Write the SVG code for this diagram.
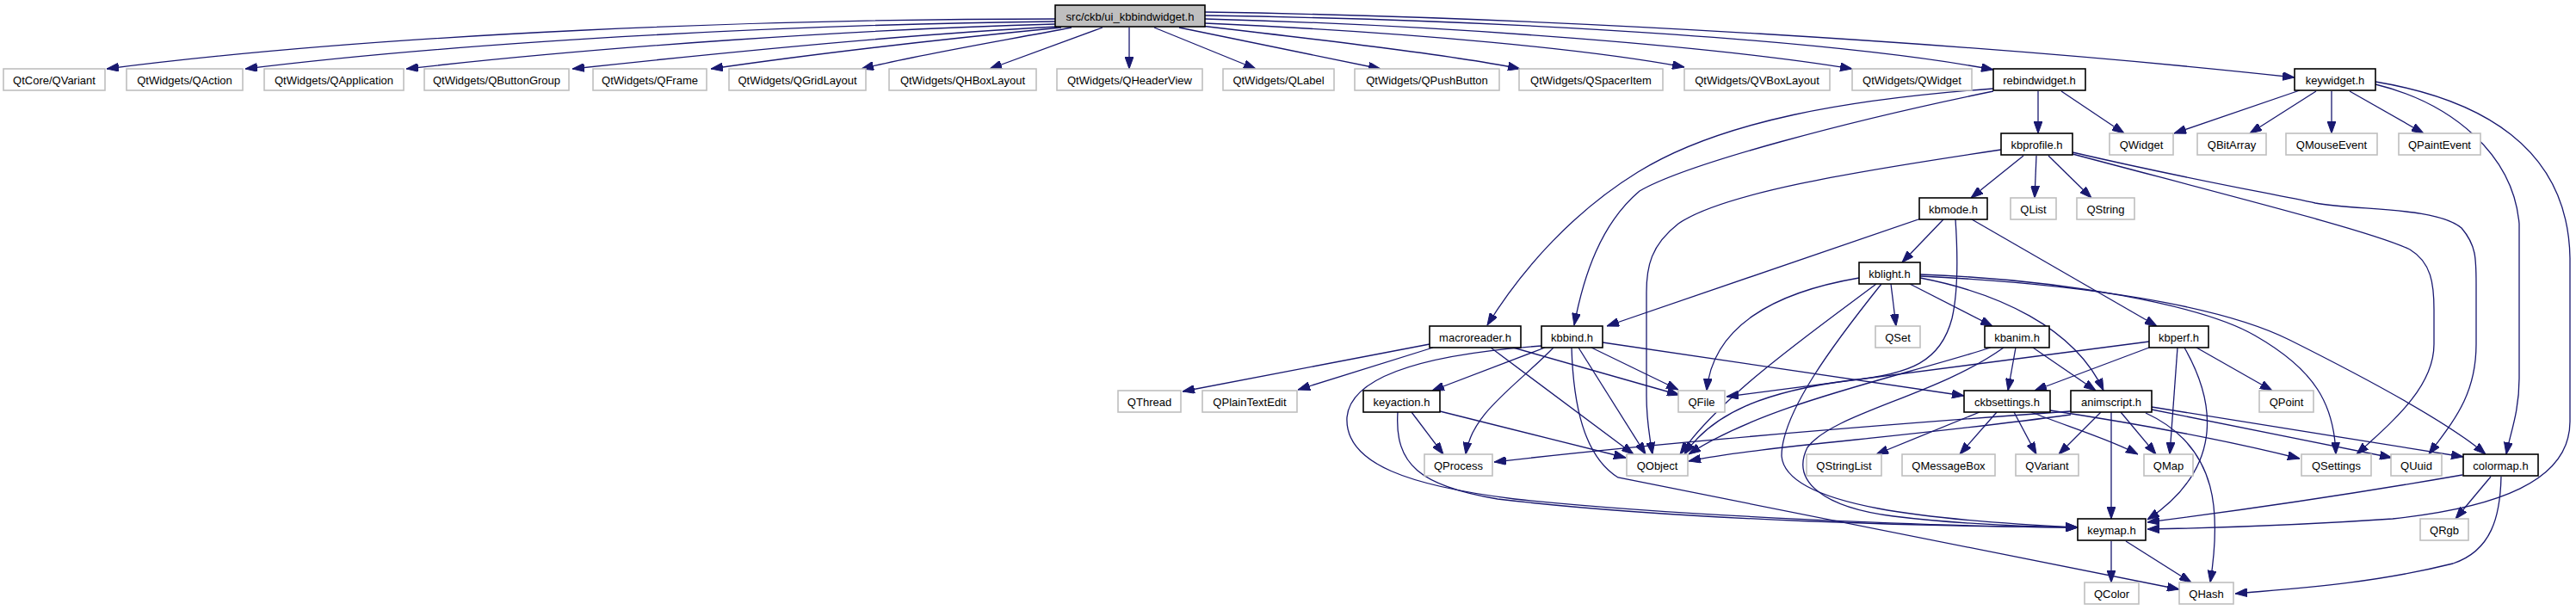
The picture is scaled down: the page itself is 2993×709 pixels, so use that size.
<svg xmlns="http://www.w3.org/2000/svg" width="2993" height="709" viewBox="0 0 2993 709">
<defs>
<marker id="a" viewBox="0 0 14 10" refX="14" refY="5" markerWidth="14" markerHeight="10" markerUnits="userSpaceOnUse" orient="auto">
<path d="M0,0 L14,5 L0,10 z" fill="#191970" stroke="#191970"/>
</marker>
</defs>
<style>
rect{fill:#fff;stroke-width:1.6}
.b rect{stroke:#000}
.g rect{stroke:#bfbfbf}
.m rect{fill:#bfbfbf;stroke:#000}
text{font-family:"Liberation Sans",Arial,sans-serif;font-size:13px;text-anchor:middle;fill:#000}
#edges path{fill:none;stroke:#191970;stroke-width:1.3;marker-end:url(#a)}
</style>
<rect x="0" y="0" width="2993" height="709" style="fill:#fff;stroke:none"/>
<g id="edges">
<path d="M1226,22 C900,22 450,38 124,80"/>
<path d="M1226,25 C950,28 560,46 285,80"/>
<path d="M1226,28 C1000,34 700,54 472,80"/>
<path d="M1228,31 C1050,40 850,60 665,80"/>
<path d="M1233,32 C1100,45 950,62 826,80"/>
<path d="M1245,32 C1150,50 1060,65 1001,80"/>
<path d="M1281,32 L1150,80"/>
<path d="M1312,32 L1312,80"/>
<path d="M1341,32 L1459,80"/>
<path d="M1370,32 L1604,80"/>
<path d="M1395,30 C1550,48 1700,66 1766,80"/>
<path d="M1400,27 C1650,38 1850,58 1957,78"/>
<path d="M1400,22 C1700,30 2000,55 2152,80"/>
<path d="M1400,18 C1800,24 2150,50 2316,81"/>
<path d="M1400,14 C1800,20 2300,50 2666,90"/>
<path d="M2368,106 L2368,155"/>
<path d="M2395,106 L2468,155"/>
<path d="M2316,103 C2150,115 2000,140 1903,200 C1830,245 1770,310 1728,378"/>
<path d="M2316,106 C2150,140 1960,190 1905,222 C1860,260 1840,320 1829,378"/>
<path d="M2672,105 L2526,155"/>
<path d="M2691,106 L2614,155"/>
<path d="M2709,106 L2709,155"/>
<path d="M2730,106 L2816,155"/>
<path d="M2760,98 C2850,120 2920,180 2927,260 L2927,440 C2927,480 2916,505 2912,528"/>
<path d="M2760,95 C2880,115 2984,170 2986,300 L2986,490 C2986,560 2900,590 2780,603 C2650,612 2550,614 2495,615"/>
<path d="M2351,181 L2290,230"/>
<path d="M2366,181 L2364,230"/>
<path d="M2380,181 L2430,230"/>
<path d="M2325,174 C2150,200 2000,225 1950,260 C1918,285 1913,310 1913,340 L1913,460 C1913,490 1917,510 1920,528"/>
<path d="M2408,179 C2600,230 2760,270 2800,290 C2825,305 2828,330 2828,360 L2828,400 C2828,450 2780,490 2738,528"/>
<path d="M2408,177 C2550,210 2640,225 2690,236 C2740,245 2830,240 2860,265 C2877,285 2877,300 2877,330 L2877,400 C2877,460 2850,490 2822,528"/>
<path d="M2258,255 L2210,305"/>
<path d="M2232,254 L1867,379"/>
<path d="M2291,255 L2506,379"/>
<path d="M2272,255 C2275,300 2275,340 2268,370 C2255,420 2220,435 2150,442 C2050,455 1990,480 1957,528"/>
<path d="M2197,330 L2203,379"/>
<path d="M2219,330 L2315,379"/>
<path d="M2160,323 C2060,340 1990,380 1983,454"/>
<path d="M2180,330 C2100,390 2000,460 1952,528"/>
<path d="M2186,330 C2130,400 2070,480 2070,530 C2075,590 2250,605 2414,613"/>
<path d="M2231,323 C2320,340 2410,380 2444,454"/>
<path d="M2231,319 C2400,325 2560,355 2620,390 C2690,430 2712,470 2714,528"/>
<path d="M2231,321 C2420,330 2580,355 2660,395 C2760,445 2850,495 2888,528"/>
<path d="M2313,404 C2200,440 2050,470 1962,528"/>
<path d="M2328,404 C2250,460 2130,480 2100,520 C2080,560 2120,590 2200,600 C2280,610 2360,612 2414,613"/>
<path d="M2342,404 L2333,454"/>
<path d="M2362,404 L2435,454"/>
<path d="M2497,397 L2006,461"/>
<path d="M2497,404 L2364,454"/>
<path d="M2552,404 L2640,454"/>
<path d="M2530,404 L2521,528"/>
<path d="M2538,404 C2570,460 2590,540 2495,604"/>
<path d="M1661,400 L1374,455"/>
<path d="M1665,404 L1508,453"/>
<path d="M1732,404 L1898,528"/>
<path d="M1758,404 L1951,459"/>
<path d="M1795,404 L1664,454"/>
<path d="M1805,404 C1760,450 1710,480 1703,528"/>
<path d="M1834,404 L1912,528"/>
<path d="M1849,404 L1950,453"/>
<path d="M1862,398 L2282,460"/>
<path d="M1791,402 C1680,410 1570,430 1565,485 C1562,540 1640,565 1760,580 C1950,600 2250,612 2414,613"/>
<path d="M1826,404 C1828,470 1840,530 1880,555 L2532,685"/>
<path d="M1640,479 L1677,528"/>
<path d="M1673,478 L1889,532"/>
<path d="M1624,479 C1620,540 1650,565 1740,580 C1950,605 2250,612 2414,613"/>
<path d="M2300,479 L2180,528"/>
<path d="M2320,479 L2277,528"/>
<path d="M2340,479 L2366,528"/>
<path d="M2360,479 C2400,495 2450,510 2484,528"/>
<path d="M2382,477 C2500,495 2600,515 2672,533"/>
<path d="M2453,479 L2453,603"/>
<path d="M2441,479 L2392,528"/>
<path d="M2464,479 L2505,528"/>
<path d="M2493,480 C2580,520 2580,600 2568,677"/>
<path d="M2500,476 L2779,532"/>
<path d="M2500,473 L2862,531"/>
<path d="M2406,482 C2200,510 2050,518 1962,536"/>
<path d="M2406,478 C2100,500 1900,518 1736,537"/>
<path d="M2861,552 C2700,580 2550,600 2495,607"/>
<path d="M2894,554 L2853,603"/>
<path d="M2906,554 C2905,600 2895,640 2850,655 C2750,680 2650,685 2597,690"/>
<path d="M2453,629 L2453,677"/>
<path d="M2470,629 L2546,677"/>
</g>
<g id="n-main" class="m"><rect x="1226" y="6" width="174" height="25"/><text x="1313" y="23.5">src/ckb/ui_kbbindwidget.h</text></g>
<g id="n-qtcore-qvariant" class="g"><rect x="4" y="80" width="118" height="25"/><text x="63" y="97.5">QtCore/QVariant</text></g>
<g id="n-qaction" class="g"><rect x="147" y="80" width="135" height="25"/><text x="214.5" y="97.5">QtWidgets/QAction</text></g>
<g id="n-qapplication" class="g"><rect x="307" y="80" width="162" height="25"/><text x="388" y="97.5">QtWidgets/QApplication</text></g>
<g id="n-qbuttongroup" class="g"><rect x="493" y="80" width="168" height="25"/><text x="577" y="97.5">QtWidgets/QButtonGroup</text></g>
<g id="n-qframe" class="g"><rect x="689" y="80" width="132" height="25"/><text x="755" y="97.5">QtWidgets/QFrame</text></g>
<g id="n-qgridlayout" class="g"><rect x="847" y="80" width="159" height="25"/><text x="926.5" y="97.5">QtWidgets/QGridLayout</text></g>
<g id="n-qhboxlayout" class="g"><rect x="1033" y="80" width="171" height="25"/><text x="1118.5" y="97.5">QtWidgets/QHBoxLayout</text></g>
<g id="n-qheaderview" class="g"><rect x="1228" y="80" width="169" height="25"/><text x="1312.5" y="97.5">QtWidgets/QHeaderView</text></g>
<g id="n-qlabel" class="g"><rect x="1421" y="80" width="129" height="25"/><text x="1485.5" y="97.5">QtWidgets/QLabel</text></g>
<g id="n-qpushbutton" class="g"><rect x="1574" y="80" width="168" height="25"/><text x="1658" y="97.5">QtWidgets/QPushButton</text></g>
<g id="n-qspaceritem" class="g"><rect x="1765" y="80" width="167" height="25"/><text x="1848.5" y="97.5">QtWidgets/QSpacerItem</text></g>
<g id="n-qvboxlayout" class="g"><rect x="1957" y="80" width="169" height="25"/><text x="2041.5" y="97.5">QtWidgets/QVBoxLayout</text></g>
<g id="n-qtwidgets-qwidget" class="g"><rect x="2152" y="80" width="139" height="25"/><text x="2221.5" y="97.5">QtWidgets/QWidget</text></g>
<g id="n-rebindwidget" class="b"><rect x="2316" y="80" width="107" height="25"/><text x="2369.5" y="97.5">rebindwidget.h</text></g>
<g id="n-keywidget" class="b"><rect x="2666" y="80" width="94" height="25"/><text x="2713" y="97.5">keywidget.h</text></g>
<g id="n-kbprofile" class="b"><rect x="2325" y="155" width="83" height="25"/><text x="2366.5" y="172.5">kbprofile.h</text></g>
<g id="n-qwidget" class="g"><rect x="2451" y="155" width="74" height="25"/><text x="2488" y="172.5">QWidget</text></g>
<g id="n-qbitarray" class="g"><rect x="2553" y="155" width="80" height="25"/><text x="2593" y="172.5">QBitArray</text></g>
<g id="n-qmouseevent" class="g"><rect x="2656" y="155" width="106" height="25"/><text x="2709" y="172.5">QMouseEvent</text></g>
<g id="n-qpaintevent" class="g"><rect x="2787" y="155" width="95" height="25"/><text x="2834.5" y="172.5">QPaintEvent</text></g>
<g id="n-kbmode" class="b"><rect x="2230" y="230" width="79" height="25"/><text x="2269.5" y="247.5">kbmode.h</text></g>
<g id="n-qlist" class="g"><rect x="2336" y="230" width="53" height="25"/><text x="2362.5" y="247.5">QList</text></g>
<g id="n-qstring" class="g"><rect x="2413" y="230" width="67" height="25"/><text x="2446.5" y="247.5">QString</text></g>
<g id="n-kblight" class="b"><rect x="2160" y="305" width="71" height="25"/><text x="2195.5" y="322.5">kblight.h</text></g>
<g id="n-macroreader" class="b"><rect x="1661" y="379" width="106" height="25"/><text x="1714" y="396.5">macroreader.h</text></g>
<g id="n-kbbind" class="b"><rect x="1791" y="379" width="71" height="25"/><text x="1826.5" y="396.5">kbbind.h</text></g>
<g id="n-qset" class="g"><rect x="2179" y="379" width="52" height="25"/><text x="2205" y="396.5">QSet</text></g>
<g id="n-kbanim" class="b"><rect x="2306" y="379" width="75" height="25"/><text x="2343.5" y="396.5">kbanim.h</text></g>
<g id="n-kbperf" class="b"><rect x="2497" y="379" width="69" height="25"/><text x="2531.5" y="396.5">kbperf.h</text></g>
<g id="n-qthread" class="g"><rect x="1299" y="454" width="73" height="25"/><text x="1335.5" y="471.5">QThread</text></g>
<g id="n-qplaintextedit" class="g"><rect x="1397" y="454" width="110" height="25"/><text x="1452" y="471.5">QPlainTextEdit</text></g>
<g id="n-keyaction" class="b"><rect x="1584" y="454" width="89" height="25"/><text x="1628.5" y="471.5">keyaction.h</text></g>
<g id="n-qfile" class="g"><rect x="1950" y="454" width="54" height="25"/><text x="1977" y="471.5">QFile</text></g>
<g id="n-ckbsettings" class="b"><rect x="2282" y="454" width="100" height="25"/><text x="2332" y="471.5">ckbsettings.h</text></g>
<g id="n-animscript" class="b"><rect x="2406" y="454" width="94" height="25"/><text x="2453" y="471.5">animscript.h</text></g>
<g id="n-qpoint" class="g"><rect x="2625" y="454" width="63" height="25"/><text x="2656.5" y="471.5">QPoint</text></g>
<g id="n-qprocess" class="g"><rect x="1655" y="528" width="79" height="25"/><text x="1694.5" y="545.5">QProcess</text></g>
<g id="n-qobject" class="g"><rect x="1890" y="528" width="71" height="25"/><text x="1925.5" y="545.5">QObject</text></g>
<g id="n-qstringlist" class="g"><rect x="2099" y="528" width="87" height="25"/><text x="2142.5" y="545.5">QStringList</text></g>
<g id="n-qmessagebox" class="g"><rect x="2210" y="528" width="108" height="25"/><text x="2264" y="545.5">QMessageBox</text></g>
<g id="n-qvariant" class="g"><rect x="2342" y="528" width="73" height="25"/><text x="2378.5" y="545.5">QVariant</text></g>
<g id="n-qmap" class="g"><rect x="2491" y="528" width="57" height="25"/><text x="2519.5" y="545.5">QMap</text></g>
<g id="n-qsettings" class="g"><rect x="2674" y="528" width="81" height="25"/><text x="2714.5" y="545.5">QSettings</text></g>
<g id="n-quuid" class="g"><rect x="2778" y="528" width="59" height="25"/><text x="2807.5" y="545.5">QUuid</text></g>
<g id="n-colormap" class="b"><rect x="2862" y="528" width="87" height="25"/><text x="2905.5" y="545.5">colormap.h</text></g>
<g id="n-keymap" class="b"><rect x="2414" y="603" width="79" height="25"/><text x="2453.5" y="620.5">keymap.h</text></g>
<g id="n-qrgb" class="g"><rect x="2812" y="603" width="56" height="25"/><text x="2840" y="620.5">QRgb</text></g>
<g id="n-qcolor" class="g"><rect x="2422" y="677" width="63" height="25"/><text x="2453.5" y="694.5">QColor</text></g>
<g id="n-qhash" class="g"><rect x="2532" y="677" width="63" height="25"/><text x="2563.5" y="694.5">QHash</text></g>
</svg>
